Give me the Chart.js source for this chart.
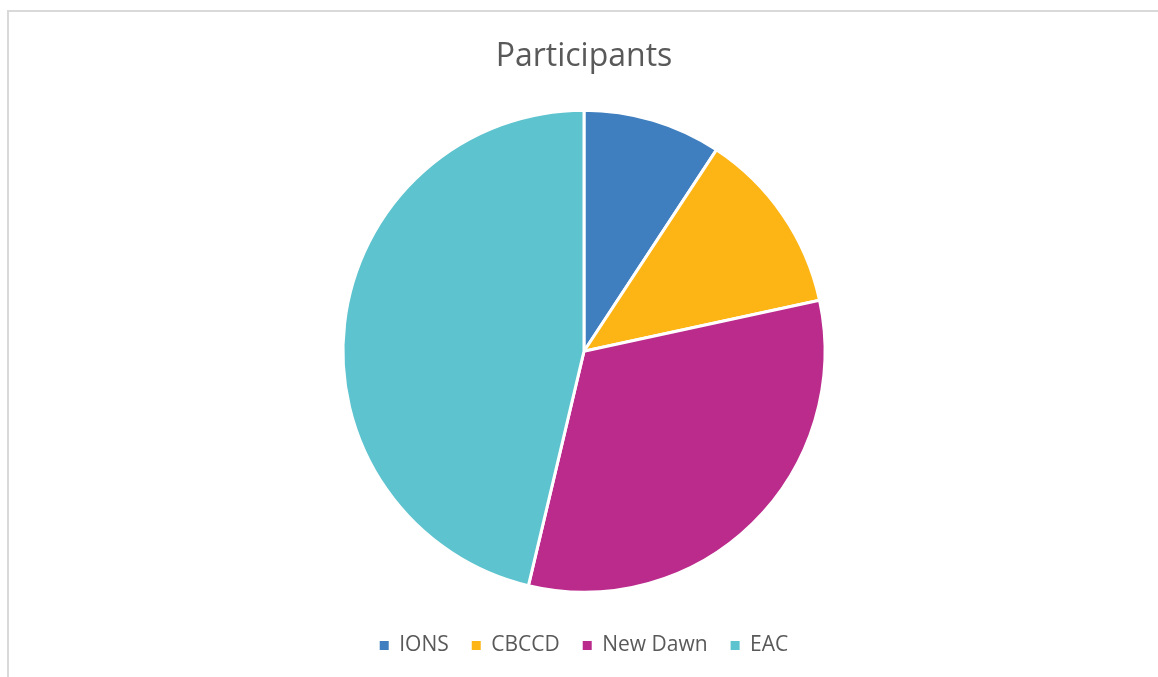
<!DOCTYPE html>
<html>
<head>
<meta charset="utf-8">
<title>Participants</title>
<script src="https://cdn.jsdelivr.net/npm/chart.js@4/dist/chart.umd.min.js"></script>
<style>
  html, body { margin: 0; padding: 0; background: #ffffff; }
  body { width: 1158px; height: 677px; overflow: hidden; position: relative; }
  #frame {
    position: absolute; left: 7px; top: 10px; width: 1160px; height: 680px;
    border-left: 2px solid #d9d9d9; border-top: 2px solid #d9d9d9;
    box-sizing: border-box;
  }
  #wrap { position: absolute; left: 8px; top: 10px; width: 1152px; height: 667px; }
</style>
</head>
<body>
<div id="frame"></div>
<div id="wrap"><canvas id="chart"></canvas></div>
<script>
// Participants by organisation
const categories = ['IONS', 'CBCCD', 'New Dawn', 'EAC'];
const participants = [15, 20, 52, 75];
const sliceColors = ['#3F7FBF', '#FDB515', '#BA2B8C', '#5DC3CE'];

const textColor = '#595959';
const fontFamily = '"Open Sans", "Noto Sans", sans-serif';

const defaultLabels = Chart.overrides.pie.plugins.legend.labels.generateLabels;

new Chart(document.getElementById('chart'), {
  type: 'pie',
  data: {
    labels: categories,
    datasets: [{
      data: participants,
      backgroundColor: sliceColors,
      borderColor: '#ffffff',
      borderWidth: 3,
      radius: 241
    }]
  },
  options: {
    responsive: true,
    maintainAspectRatio: false,
    animation: false,
    layout: { padding: { top: 0, bottom: 11 } },
    plugins: {
      title: {
        display: true,
        text: 'Participants',
        color: textColor,
        font: { family: fontFamily, size: 32, weight: 'normal' },
        padding: { top: 28, bottom: 14 }
      },
      legend: {
        position: 'bottom',
        labels: {
          color: textColor,
          font: { family: fontFamily, size: 21 },
          boxWidth: 9,
          boxHeight: 9,
          padding: 23,
          // solid legend swatches without the slice border
          generateLabels(chart) {
            return defaultLabels(chart).map(item => Object.assign(item, { lineWidth: 0 }));
          }
        }
      },
      tooltip: { enabled: false }
    }
  }
});
</script>
</body>
</html>
